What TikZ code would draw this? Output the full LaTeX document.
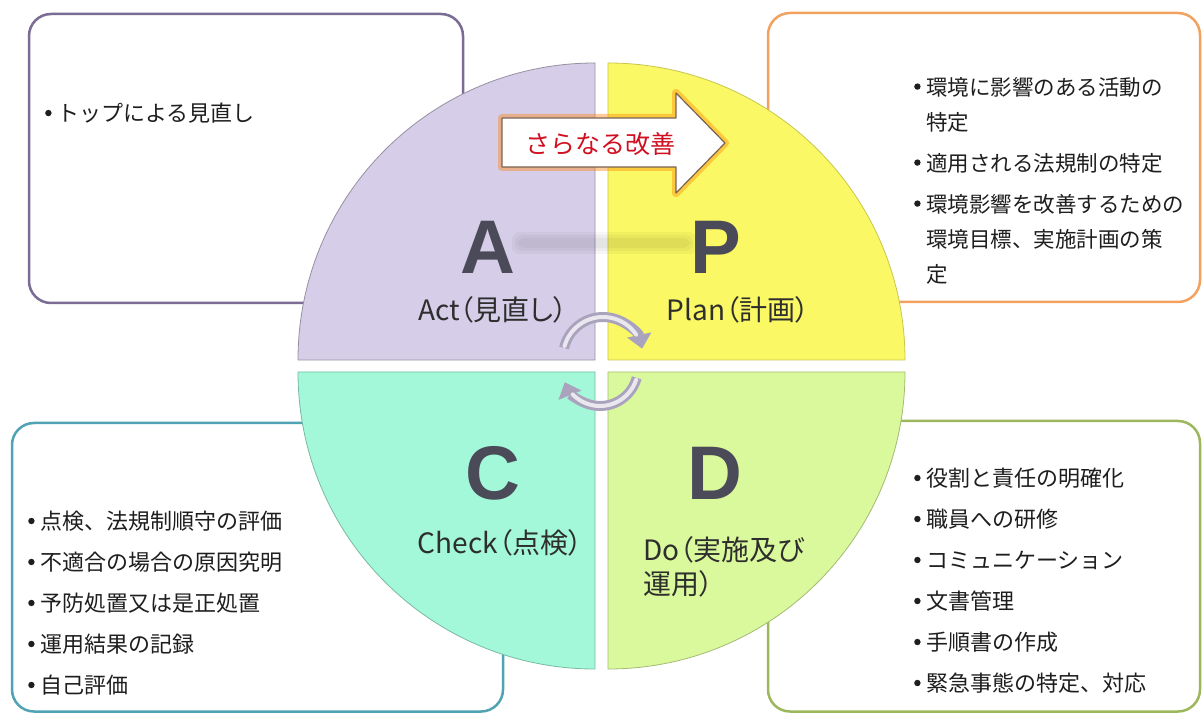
\documentclass[tikz,border=0pt]{standalone}
\usepackage{fontspec}
\setmainfont{Noto Sans CJK JP}
\newfontfamily\latf{Liberation Sans}
\newfontfamily\labf[RawFeature=+palt]{Noto Sans CJK JP}
\usepackage{xcolor}
\usetikzlibrary{arrows.meta}

\definecolor{actfill}{HTML}{D6CEE8}
\definecolor{planfill}{HTML}{FAF864}
\definecolor{checkfill}{HTML}{A2F8D8}
\definecolor{dofill}{HTML}{DAF99C}
\definecolor{actline}{HTML}{7A6C94}
\definecolor{planline}{HTML}{F2A25E}
\definecolor{checkline}{HTML}{4FA3B5}
\definecolor{doline}{HTML}{9DB85C}
\definecolor{letgray}{HTML}{4A4A58}
\definecolor{labgray}{HTML}{2E2E2E}
\definecolor{listgray}{HTML}{1E1E1E}
\definecolor{turngray}{HTML}{A9A3BD}
\definecolor{arrowline}{HTML}{7A6250}
\definecolor{improvred}{HTML}{D01020}

\newcommand{\bul}{\makebox[12pt][l]{\raisebox{5.5pt}{\tikz\fill[listgray] (0,0) circle (3.2pt);}}}
\newcommand{\bulskip}{\hspace*{12pt}}

\begin{document}
\begin{tikzpicture}[x=1pt, y=1pt,
infobox/.style={rounded corners=22pt, line width=2.5pt, fill=white},
quarter/.style={line width=0.8pt},
bigletter/.style={font=\latf\bfseries\fontsize{76}{76}\selectfont, text=letgray, inner sep=0},
phase/.style={font=\labf\fontsize{28}{34}\selectfont, text=labgray, inner sep=0},
list/.style={anchor=north west, align=left, inner sep=0, text=listgray},
cyclearrow/.style={line width=10pt, draw=turngray, -{Triangle[length=14pt, width=24pt]}},
cyclehi/.style={line width=4pt, draw=white!75!turngray, line cap=round}
]
\useasboundingbox (0,0) rectangle (1202,713);
\fill[white] (0,0) rectangle (1202,713);

% boxes
\draw[infobox, draw=actline] (29,410) rectangle (463,699);
\draw[infobox, draw=planline] (768,411) rectangle (1200,700);
\draw[infobox, draw=checkline] (12,1.5) rectangle (503,290);
\draw[infobox, draw=doline] (768,1.5) rectangle (1200,292);

% circle
\filldraw[quarter, fill=actfill, draw=actfill!70!black] (595,353) -- ++(-297,0) arc[start angle=180, end angle=90, radius=297] -- cycle;
\filldraw[quarter, fill=planfill, draw=planfill!80!black] (608,353) -- ++(0,297) arc[start angle=90, end angle=0, radius=297] -- cycle;
\filldraw[quarter, fill=checkfill, draw=checkfill!75!black] (595,341) -- ++(0,-297) arc[start angle=270, end angle=180, radius=297] -- cycle;
\filldraw[quarter, fill=dofill, draw=dofill!75!black] (608,341) -- ++(297,0) arc[start angle=0, end angle=-90, radius=297] -- cycle;

\foreach \g in {0,3,6}
  \fill[black, opacity=0.035, rounded corners=7pt] (518-\g,465-\g) rectangle (690+\g,475+\g);

\node[bigletter](la) at (488,466) {A};
\node[bigletter](lp) at (716,466) {P};
\node[bigletter](lc) at (493,240) {C};
\node[bigletter](ld) at (715,240) {D};

\node[phase](act) at (493,403) {Act（見直し）};
\node[phase](plan) at (738,403) {Plan（計画）};
\node[phase](check) at (500,170) {Check（点検）};
\node[phase, anchor=north west, align=left](do) at (643,177) {Do（実施及び\\運用）};

% improvement arrow
\draw[orange, line width=8pt, opacity=0.4, line join=round] (502,546) -- (676,546) -- (676,520) -- (725,570) -- (676,620) -- (676,595) -- (502,595) -- cycle;
\filldraw[fill=white, draw=arrowline, line width=1.2pt, line join=round] (502,546) -- (676,546) -- (676,520) -- (725,570) -- (676,620) -- (676,595) -- (502,595) -- cycle;
\node[font=\fontsize{25}{25}\selectfont, text=improvred, inner sep=0](impr) at (600,569) {さらなる改善};

% turning arrows
\coordinate (topturn) at (603,356);
\coordinate (botturn) at (600,345);
\draw[cyclearrow] ([shift={(167:40)}]topturn) arc[start angle=167, end angle=12, radius=40];
\draw[cyclehi] ([shift={(164:40)}]topturn) arc[start angle=164, end angle=34, radius=40];
\draw[cyclearrow] ([shift={(-15:38)}]botturn) arc[start angle=-15, end angle=-158, radius=38];
\draw[cyclehi] ([shift={(-18:38)}]botturn) arc[start angle=-18, end angle=-136, radius=38];

% lists
\node[list, font=\fontsize{22}{41}\selectfont](actlist) at (45,610) {\bul トップによる見直し};
\node[list, font=\fontsize{21.5}{35}\selectfont](planlist) at (914,636) {\bul 環境に影響のある活動の\\\bulskip 特定\\[6pt]\bul 適用される法規制の特定\\[6pt]\bul 環境影響を改善するための\\\bulskip 環境目標、実施計画の策\\\bulskip 定};
\node[list, font=\fontsize{22}{41}\selectfont](checklist) at (28,202) {\bul 点検、法規制順守の評価\\\bul 不適合の場合の原因究明\\\bul 予防処置又は是正処置\\\bul 運用結果の記録\\\bul 自己評価};
\node[list, font=\fontsize{22}{41}\selectfont](dolist) at (914,245) {\bul 役割と責任の明確化\\\bul 職員への研修\\\bul コミュニケーション\\\bul 文書管理\\\bul 手順書の作成\\\bul 緊急事態の特定、対応};

\end{tikzpicture}
\end{document}
